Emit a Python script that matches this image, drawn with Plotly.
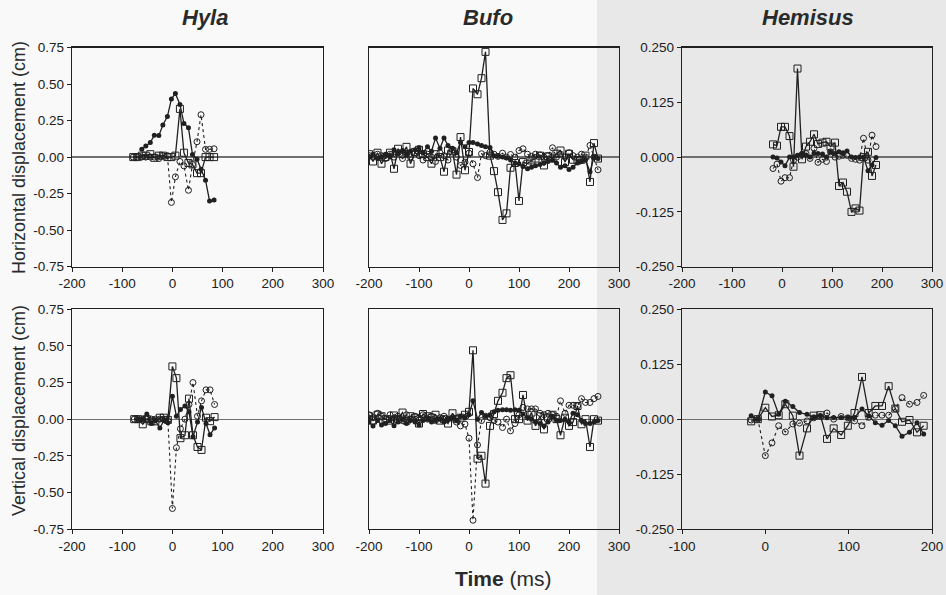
import plotly.graph_objects as go

# ---------------- data ----------------
HYLA_H_T = [-78, -70, -61, -53, -44, -36, -27, -19, -10, -2, 6, 15, 23, 32, 40, 49, 57, 66, 74, 83]
HYLA_H_SQ = [0.0, 0.0, 0.01, 0.01, 0.02, -0.005, 0.01, 0.01, 0.0, 0.0, 0.01, 0.33, 0.03, -0.04, -0.05, -0.11, -0.11, 0.0, 0.0, 0.0]
HYLA_H_FC = [None, None, 0.053, 0.076, 0.10, 0.15, 0.147, 0.22, 0.277, 0.397, 0.436, 0.36, 0.23, 0.20, 0.018, -0.014, -0.083, -0.158, -0.30, -0.294]
HYLA_H_OC = [0.0, 0.0, 0.0, 0.0, 0.0, 0.0, -0.01, 0.01, 0.01, -0.31, -0.135, -0.03, -0.06, -0.227, -0.05, 0.105, 0.29, 0.053, 0.053, 0.057]

HYLA_V_T = [-76, -68, -59, -51, -42, -34, -25, -17, -9, 0, 8, 16, 25, 33, 41, 50, 58, 67, 75, 84]
HYLA_V_SQ = [0.0, 0.0, -0.035, 0.0, -0.015, -0.015, 0.01, 0.01, -0.005, 0.36, 0.28, -0.13, -0.11, 0.14, -0.11, -0.19, -0.21, 0.01, -0.014, 0.014]
HYLA_V_FC = [None, 0.0, 0.0, 0.036, -0.03, -0.01, -0.06, -0.01, -0.025, 0.157, 0.02, 0.066, 0.09, 0.05, -0.12, -0.02, 0.08, -0.03, -0.107, -0.06]
HYLA_V_OC = [0.0, 0.0, 0.0, 0.0, 0.0, 0.0, 0.0, 0.0, -0.01, -0.61, -0.195, -0.066, 0.0, 0.1, 0.25, 0.02, 0.125, 0.2, 0.2, 0.1]

BUFO_T = [-200, -192, -183, -175, -167, -158, -150, -142, -133, -125, -117, -108, -100, -92,
          -83, -75, -67, -58, -50, -42, -33, -25, -17, -8, 0, 8, 17, 25, 33, 42, 50, 58, 67,
          75, 83, 92, 100, 108, 117, 125, 133, 142, 150, 158, 167, 175, 183, 192, 200, 208,
          217, 225, 233, 242, 250, 258]
BUFO_H_SQ = [0.02, -0.03, 0.03, -0.045, 0.0, 0.03, -0.08, 0.057, 0.02, 0.07, -0.045, 0.035, 0.05, 0.02,
             0.0, -0.045, 0.02, 0.0, -0.1, 0.045, 0.04, -0.12, 0.137, -0.09, 0.035, 0.47, 0.43, 0.54,
             0.72, 0.01, -0.096, -0.24, -0.43, -0.385, -0.073, -0.04, -0.30, -0.034, -0.045, -0.023,
             -0.01, 0.01, -0.057, 0.005, -0.01, 0.023, 0.045, -0.034, 0.023, -0.018, -0.023, -0.018,
             0.01, -0.17, 0.096, -0.01]
BUFO_H_FC = [0.0, 0.02, -0.01, 0.0, 0.02, 0.0, 0.05, 0.03, 0.045, 0.02, 0.04, 0.05, 0.065, 0.03,
             0.07, 0.04, 0.13, 0.06, 0.13, 0.08, 0.06, 0.03, 0.1, 0.07, 0.1, 0.1, 0.09, 0.08, 0.07,
             0.065, 0.01, 0.005, 0.0, -0.005, -0.02, -0.04, -0.045, -0.065, -0.08, -0.07, -0.06,
             -0.05, -0.04, -0.03, -0.02, -0.04, -0.07, -0.06, -0.085, -0.07, -0.04, -0.03, -0.02,
             -0.1, 0.0, -0.01]
BUFO_H_OC = [0.01, 0.0, 0.02, 0.01, -0.01, 0.02, 0.0, 0.03, -0.01, 0.02, 0.0, 0.03, 0.01, -0.02,
             0.02, 0.0, -0.03, 0.03, 0.01, -0.02, 0.05, 0.0, -0.057, -0.034, 0.027, -0.046, -0.14,
             0.023, 0.01, 0.034, 0.02, 0.005, 0.027, 0.0, 0.018, 0.0, 0.045, 0.057, 0.02, 0.005,
             0.02, 0.015, 0.0, 0.01, 0.064, 0.0, 0.02, 0.0, 0.03, 0.01, 0.0, 0.02, 0.0, 0.08, 0.0,
             -0.087]

BUFO_V_SQ = [0.02, -0.01, 0.03, 0.02, 0.0, -0.01, 0.025, 0.0, 0.045, -0.01, 0.02, 0.01, -0.03, 0.035,
             0.02, 0.01, 0.03, -0.01, 0.0, -0.03, 0.04, 0.0, 0.01, 0.03, 0.05, 0.47, -0.27, -0.25,
             -0.44, -0.046, 0.034, 0.125, 0.18, 0.28, 0.3, 0.0, 0.0, 0.165, -0.01, 0.045, -0.046,
             0.02, -0.07, 0.01, 0.03, 0.0, -0.11, 0.01, -0.046, -0.02, 0.09, -0.035, 0.0, -0.19,
             0.0, -0.01]
BUFO_V_FC = [-0.02, -0.046, -0.01, -0.04, -0.03, -0.01, -0.045, -0.02, 0.0, -0.03, -0.01, -0.02,
             -0.04, -0.01, 0.0, -0.02, -0.01, 0.0, -0.02, 0.0, 0.01, -0.01, 0.02, 0.01, 0.03, 0.125,
             0.0, 0.046, 0.02, 0.03, 0.05, 0.06, 0.064, 0.064, 0.06, 0.064, 0.06, 0.035, 0.01, 0.0,
             -0.02, -0.03, -0.046, -0.02, 0.02, -0.01, -0.01, 0.0, -0.02, 0.04, 0.03, -0.01, -0.03,
             -0.03, -0.02, -0.01]
BUFO_V_OC = [0.03, 0.01, 0.04, 0.02, 0.0, 0.03, 0.01, 0.02, -0.01, 0.03, 0.0, 0.02, 0.01, 0.03,
             0.0, 0.02, -0.01, 0.01, 0.02, 0.0, 0.01, -0.02, -0.046, -0.034, -0.13, -0.69, -0.176,
             -0.01, 0.02, 0.01, -0.01, -0.02, -0.057, 0.0, -0.08, -0.03, 0.03, 0.08, 0.07, 0.07,
             0.07, 0.04, 0.03, 0.04, 0.03, 0.02, 0.125, 0.04, 0.095, 0.095, 0.09, 0.14, 0.114,
             0.114, 0.14, 0.155]

HEM_H_T = [-18, -10, -2, 6, 15, 23, 31, 40, 48, 56, 64, 72, 81, 89, 97, 106, 114, 122, 130,
           139, 147, 155, 163, 172, 180, 188]
HEM_H_SQ = [0.029, 0.026, 0.069, 0.069, 0.048, -0.022, 0.202, -0.005, 0.024, 0.035, 0.052, 0.03,
            0.033, 0.035, 0.024, 0.033, -0.066, -0.058, -0.079, -0.125, -0.117, -0.122, 0.0,
            0.012, -0.043, -0.018]
HEM_H_FC = [0.0, -0.002, -0.011, -0.02, 0.0, 0.0, 0.004, 0.008, 0.005, 0.0, 0.008, 0.008, 0.007,
            0.0, 0.012, 0.008, 0.012, 0.01, 0.014, 0.0, -0.001, 0.0, 0.0, -0.031, -0.018, -0.001]
HEM_H_OC = [-0.026, -0.016, -0.055, -0.047, -0.047, -0.007, 0.0, 0.006, 0.008, -0.003, 0.02,
            -0.012, -0.005, -0.01, 0.012, 0.0, 0.002, 0.004, 0.004, -0.003, -0.005, -0.007,
            0.043, -0.007, 0.05, 0.024]

HEM_V_T = [-17, -9, 0, 8, 16, 24, 33, 41, 50, 58, 66, 74, 82, 91, 99, 107, 116, 124, 132, 140,
           148, 156, 164, 173, 182, 190]
HEM_V_SQ = [-0.005, 0.0, 0.026, 0.006, 0.009, 0.034, 0.008, -0.083, -0.021, 0.008, 0.009, -0.045,
            -0.021, -0.036, -0.015, 0.014, 0.096, 0.014, 0.03, 0.03, 0.075, 0.024, -0.006, -0.002,
            -0.03, -0.015]
HEM_V_FC = [0.008, 0.0, 0.062, 0.053, 0.011, 0.041, 0.029, 0.015, 0.011, 0.004, 0.008, 0.003,
            0.004, 0.004, 0.004, 0.004, 0.023, 0.008, -0.008, -0.014, -0.003, -0.015, -0.039,
            -0.03, -0.008, -0.034]
HEM_V_OC = [-0.002, 0.0, -0.083, -0.054, -0.015, -0.029, -0.011, -0.009, -0.004, 0.003, 0.006,
            0.014, 0.0, 0.006, 0.003, -0.004, -0.015, 0.004, 0.009, 0.009, 0.009, 0.024, 0.049,
            0.034, 0.038, 0.054]

TITLES = ["Hyla", "Bufo", "Hemisus"]
Y_TICKS_BIG = [-0.75, -0.5, -0.25, 0.0, 0.25, 0.5, 0.75]
Y_TEXT_BIG = ["-0.75", "-0.50", "-0.25", "0.00", "0.25", "0.50", "0.75"]
Y_TICKS_SMALL = [-0.25, -0.125, 0.0, 0.125, 0.25]
Y_TEXT_SMALL = ["-0.250", "-0.125", "0.000", "0.125", "0.250"]
X_TICKS_WIDE = [-200, -100, 0, 100, 200, 300]
X_TICKS_HEMV = [-100, 0, 100, 200]

# ---------------- figure ----------------
W, H = 946, 595
INK = "#202020"
FONT = "Liberation Sans, Arial, sans-serif"

fig = go.Figure()

panels = [
    (1, HYLA_H_T, HYLA_H_SQ, HYLA_H_FC, HYLA_H_OC),
    (2, BUFO_T, BUFO_H_SQ, BUFO_H_FC, BUFO_H_OC),
    (3, HEM_H_T, HEM_H_SQ, HEM_H_FC, HEM_H_OC),
    (4, HYLA_V_T, HYLA_V_SQ, HYLA_V_FC, HYLA_V_OC),
    (5, BUFO_T, BUFO_V_SQ, BUFO_V_FC, BUFO_V_OC),
    (6, HEM_V_T, HEM_V_SQ, HEM_V_FC, HEM_V_OC),
]

for idx, t, sq, fc, oc in panels:
    xa = "x" if idx == 1 else f"x{idx}"
    ya = "y" if idx == 1 else f"y{idx}"
    fig.add_trace(go.Scatter(
        x=t, y=oc, xaxis=xa, yaxis=ya, mode="lines+markers",
        line=dict(color=INK, width=1.1, dash="dot"),
        marker=dict(symbol="circle-open", size=6, color=INK, line=dict(width=1, color=INK)),
        showlegend=False, hoverinfo="skip"))
    fig.add_trace(go.Scatter(
        x=t, y=sq, xaxis=xa, yaxis=ya, mode="lines+markers",
        line=dict(color=INK, width=1.3),
        marker=dict(symbol="square-open", size=7, color=INK, line=dict(width=1, color=INK)),
        showlegend=False, hoverinfo="skip"))
    fig.add_trace(go.Scatter(
        x=t, y=fc, xaxis=xa, yaxis=ya, mode="lines+markers", connectgaps=False,
        line=dict(color=INK, width=1.3),
        marker=dict(symbol="circle", size=5, color=INK),
        showlegend=False, hoverinfo="skip"))


def px_x(p):
    return p / W


def px_y(p):
    return 1 - p / H


col_x = [(72, 323), (369, 619), (682, 932)]
row_y = [(47.5, 266.7), (309.3, 529.0)]

axis_common = dict(
    showline=True, linecolor=INK, linewidth=1.3, mirror=True, automargin=False,
    showgrid=False, ticks="outside", ticklen=4, tickwidth=1, tickcolor=INK,
    tickfont=dict(family=FONT, size=13.5, color=INK),
)

layout = {}
for idx in range(1, 7):
    r = 0 if idx <= 3 else 1
    c = (idx - 1) % 3
    xname = "xaxis" if idx == 1 else f"xaxis{idx}"
    yname = "yaxis" if idx == 1 else f"yaxis{idx}"
    if c == 2 and r == 1:
        xr, xt = [-100, 200], X_TICKS_HEMV
    else:
        xr, xt = [-200, 300], X_TICKS_WIDE
    xa = dict(axis_common, domain=[px_x(col_x[c][0]), px_x(col_x[c][1])], range=xr,
              tickvals=xt, ticktext=[str(v) for v in xt], zeroline=False,
              anchor="y" if idx == 1 else f"y{idx}")
    if c == 2:
        yr, yt, ytxt = [-0.25, 0.25], Y_TICKS_SMALL, Y_TEXT_SMALL
    else:
        yr, yt, ytxt = [-0.75, 0.75], Y_TICKS_BIG, Y_TEXT_BIG
    ya = dict(axis_common, domain=[px_y(row_y[r][1]), px_y(row_y[r][0])], range=yr,
              tickvals=yt, ticktext=ytxt, zeroline=True, zerolinecolor="#6f6f6f",
              zerolinewidth=1.3, anchor="x" if idx == 1 else f"x{idx}")
    if c == 1:
        ya.update(showticklabels=False, ticks="")
    layout[xname] = xa
    layout[yname] = ya

fig.update_layout(**layout)

annotations = []
title_x = [205, 488, 808]
for name, xc in zip(TITLES, title_x):
    annotations.append(dict(
        text=f"<b><i>{name}</i></b>", x=px_x(xc), y=px_y(17), xref="paper", yref="paper",
        showarrow=False, xanchor="center", yanchor="middle",
        font=dict(family=FONT, size=22, color="#2a2a2a")))

annotations.append(dict(
    text="Horizontal displacement (cm)", x=px_x(19), y=px_y(158), xref="paper", yref="paper",
    showarrow=False, textangle=-90, xanchor="center", yanchor="middle",
    font=dict(family=FONT, size=18, color="#2a2a2a")))
annotations.append(dict(
    text="Vertical displacement (cm)", x=px_x(19), y=px_y(411), xref="paper", yref="paper",
    showarrow=False, textangle=-90, xanchor="center", yanchor="middle",
    font=dict(family=FONT, size=18, color="#2a2a2a")))
annotations.append(dict(
    text="<b>Time</b> (ms)", x=px_x(503), y=px_y(578), xref="paper", yref="paper",
    showarrow=False, xanchor="center", yanchor="middle",
    font=dict(family=FONT, size=21, color="#2a2a2a")))

shapes = [dict(type="rect", xref="paper", yref="paper", x0=px_x(597), x1=1, y0=0, y1=1,
               fillcolor="#e8e8e8", line=dict(width=0), layer="below")]

fig.update_layout(
    template="none",
    width=W, height=H, margin=dict(l=0, r=0, t=0, b=0, pad=0, autoexpand=False),
    paper_bgcolor="#f9f9f9", plot_bgcolor="rgba(0,0,0,0)",
    annotations=annotations, shapes=shapes, showlegend=False,
)

fig.write_html(
    "out.html",
    config={"displayModeBar": False, "staticPlot": True},
    post_script="document.body.style.margin='0px';document.body.style.overflow='hidden';",
)
